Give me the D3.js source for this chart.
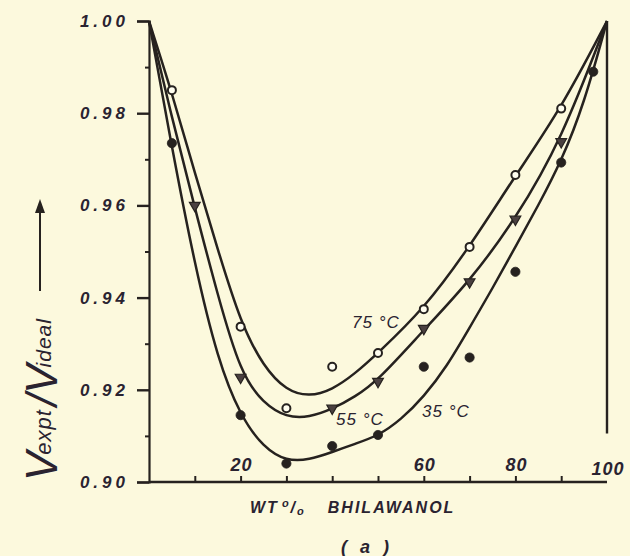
<!DOCTYPE html>
<html><head><meta charset="utf-8">
<script src="https://cdn.jsdelivr.net/npm/d3@7"></script>
<style>
html,body{margin:0;padding:0;background:#fcf9dd;}
svg{display:block;}
text{font-family:"Liberation Sans","DejaVu Sans",sans-serif;font-style:italic;font-weight:bold;fill:#2a2330;}
</style></head>
<body>
<svg id="c" width="630" height="556"></svg>
<script>
// ---- data ----
const seriesNames = ["75 °C", "55 °C", "35 °C"];
// smooth curves
const curve75X = [0, 5, 10, 15, 20, 25, 30, 35, 40, 45, 50, 60, 70, 80, 90, 100];
const curve75Y = [1.000, 0.9845, 0.967, 0.9505, 0.9345, 0.925, 0.9198, 0.9185, 0.920, 0.9235, 0.928, 0.9375, 0.951, 0.9665, 0.981, 1.000];
const curve55X = [0, 5, 10, 15, 20, 25, 30, 35, 40, 45, 50, 60, 70, 80, 90, 100];
const curve55Y = [1.000, 0.979, 0.9595, 0.9405, 0.9235, 0.917, 0.914, 0.914, 0.9158, 0.9185, 0.922, 0.933, 0.9435, 0.957, 0.974, 1.000];
const curve35X = [0, 5, 10, 15, 20, 25, 30, 35, 40, 45, 50, 55, 60, 65, 70, 75, 80, 85, 90, 95, 100];
const curve35Y = [1.000, 0.9725, 0.947, 0.9265, 0.9142, 0.9075, 0.9045, 0.9048, 0.9065, 0.9083, 0.910, 0.9135, 0.9185, 0.925, 0.9335, 0.942, 0.951, 0.960, 0.9695, 0.982, 1.000];
// experimental points
const pts75X = [5, 20, 30, 40, 50, 60, 70, 80, 90];
const pts75Y = [0.985, 0.9337, 0.916, 0.925, 0.928, 0.9375, 0.951, 0.9666, 0.981];
const pts55X = [10, 20, 40, 50, 60, 70, 80, 90];
const pts55Y = [0.960, 0.9227, 0.916, 0.9218, 0.9333, 0.9434, 0.957, 0.9738];
const pts35X = [5, 20, 30, 40, 50, 60, 70, 80, 90, 97];
const pts35Y = [0.9735, 0.9145, 0.904, 0.9078, 0.9102, 0.925, 0.927, 0.9456, 0.9693, 0.989];
const yMajorTicks = [0.90, 0.92, 0.94, 0.96, 0.98, 1.00];
const yMinorTicks = [0.91, 0.93, 0.95, 0.97, 0.99];
const yTickLabels = ["0.90", "0.92", "0.94", "0.96", "0.98", "1.00"];
const xTicks = [10, 20, 30, 40, 50, 60, 70, 80, 90];
const xTickLabels = [20, 60, 80, 100];

const ink = "#26221f";
const svg = d3.select("#c");
const x = d3.scaleLinear().domain([0, 100]).range([149, 607]);
const y = d3.scaleLinear().domain([0.90, 1.00]).range([482, 21]);

// y axis
const yAxis = d3.axisLeft(y).tickValues(yMajorTicks).tickSize(12).tickFormat((d, i) => yTickLabels[i]);
const gy = svg.append("g").attr("transform", `translate(${x(0)},0)`).call(yAxis);
gy.select(".domain").attr("stroke", ink).attr("stroke-width", 2.2);
gy.selectAll(".tick line").attr("stroke", ink).attr("stroke-width", 2.4);
gy.selectAll(".tick text").attr("x", -20).attr("fill", "#2a2330")
  .style("font-size", "17px").style("letter-spacing", "4px")
  .style("font-family", "'Liberation Sans',sans-serif").style("font-style", "italic").style("font-weight", "bold");
const gyMinor = d3.axisLeft(y).tickValues(yMinorTicks).tickSize(4).tickFormat("");
const gym = svg.append("g").attr("transform", `translate(${x(0)},0)`).call(gyMinor);
gym.select(".domain").remove();
gym.selectAll(".tick line").attr("stroke", ink).attr("stroke-width", 2);

// x axis (ticks pointing up)
const xAxis = d3.axisBottom(x).tickValues(xTicks).tickSize(-6).tickFormat("");
const gx = svg.append("g").attr("transform", `translate(0,${y(0.90)})`).call(xAxis);
gx.select(".domain").attr("stroke", ink).attr("stroke-width", 2.4).attr("d", `M${x(0)},0H${x(100)}`);
gx.selectAll(".tick line").attr("stroke", ink).attr("stroke-width", 2);
svg.append("g").selectAll("text").data(xTickLabels).join("text")
  .attr("x", d => x(d) + 1).attr("y", d => d === 100 ? y(0.90) - 7 : y(0.90) - 11).attr("text-anchor", "middle")
  .style("font-size", "18px").style("letter-spacing", "1px").text(d => d);

// right border line at 100
svg.append("line").attr("x1", x(100)).attr("x2", x(100)).attr("y1", y(1.0)).attr("y2", y(0.9105))
  .attr("stroke", ink).attr("stroke-width", 2.4);

// curves
const line = d3.line().x(d => x(d[0])).y(d => y(d[1])).curve(d3.curveBasis);
const curves = [[curve75X, curve75Y], [curve55X, curve55Y], [curve35X, curve35Y]];
curves.forEach(([cx, cy]) => {
  svg.append("path").datum(cx.map((v, i) => [v, cy[i]]))
    .attr("d", line).attr("fill", "none").attr("stroke", ink).attr("stroke-width", 2.5);
});

// markers
svg.append("g").selectAll("circle").data(pts75X.map((v, i) => [v, pts75Y[i]])).join("circle")
  .attr("cx", d => x(d[0])).attr("cy", d => y(d[1])).attr("r", 4)
  .attr("fill", "#fffef0").attr("stroke", ink).attr("stroke-width", 2);
const tri = d3.symbol().type(d3.symbolTriangle).size(50);
svg.append("g").selectAll("path").data(pts55X.map((v, i) => [v, pts55Y[i]])).join("path")
  .attr("d", tri).attr("transform", d => `translate(${x(d[0])},${y(d[1])}) rotate(180)`)
  .attr("fill", "#4a4040").attr("stroke", ink).attr("stroke-width", 1.2);
svg.append("g").selectAll("circle").data(pts35X.map((v, i) => [v, pts35Y[i]])).join("circle")
  .attr("cx", d => x(d[0])).attr("cy", d => y(d[1])).attr("r", 4.6)
  .attr("fill", ink).attr("stroke", ink).attr("stroke-width", 0.8);

// curve labels
const labelPos = [[352, 328], [336, 425], [422, 417]];
svg.append("g").selectAll("text").data(seriesNames).join("text")
  .attr("x", (d, i) => labelPos[i][0]).attr("y", (d, i) => labelPos[i][1])
  .style("font-size", "17px").style("font-weight", "normal").style("letter-spacing", "1px")
  .text(d => d);

// x title
const xt = svg.append("text").attr("x", 250).attr("y", 513).style("font-size", "16px").style("letter-spacing", "2px");
xt.append("tspan").text("WT");
xt.append("tspan").attr("dx", 3).attr("dy", -6).style("font-size", "11px").text("o");
xt.append("tspan").attr("dy", 6).text("/");
xt.append("tspan").attr("dy", 2).style("font-size", "11px").text("o");
xt.append("tspan").attr("dx", 22).attr("dy", -2).text("BHILAWANOL");
svg.append("text").attr("x", 367).attr("y", 553).attr("text-anchor", "middle")
  .style("font-size", "18px").style("letter-spacing", "4px").text("( a )");

// y title (rotated) with arrow
const yt = svg.append("text").attr("transform", "translate(57,481) rotate(-90)")
  .style("font-size", "44px").style("font-weight", "normal");
yt.append("tspan").text("V");
yt.append("tspan").attr("dx", -3).attr("dy", -6).style("font-size", "22px").style("letter-spacing", "1px").text("expt");
yt.append("tspan").attr("dx", 3).attr("dy", 6).style("font-size", "44px").text("/");
yt.append("tspan").attr("dx", 0).text("V");
yt.append("tspan").attr("dx", -3).attr("dy", -6).style("font-size", "21px").style("letter-spacing", "1px").text("ideal");
svg.append("line").attr("x1", 40).attr("x2", 40).attr("y1", 291).attr("y2", 206).attr("stroke", ink).attr("stroke-width", 2);
svg.append("path").attr("d", "M40,199 L35,213 L45,213 Z").attr("fill", ink);
</script>
</body></html>
